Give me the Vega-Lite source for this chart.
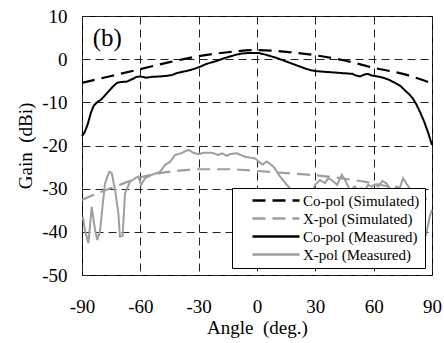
{
  "$schema": "https://vega.github.io/schema/vega-lite/v6.json",
  "width": 350,
  "height": 259,
  "autosize": {"type": "none"},
  "padding": {"left": 82, "top": 16, "right": 12, "bottom": 68},
  "background": "white",
  "config": {
    "view": {"stroke": "black", "strokeWidth": 1},
    "font": "Liberation Serif",
    "axis": {
      "labelFont": "Liberation Serif", "titleFont": "Liberation Serif",
      "labelFontSize": 19, "titleFontSize": 19, "titleFontWeight": "normal",
      "labelColor": "black", "titleColor": "black",
      "grid": true, "gridColor": "#222", "gridDash": [8, 5], "gridWidth": 1,
      "domain": false, "ticks": false, "labelFlush": false, "labelOverlap": false
    },
    "legend": {
      "labelFont": "Liberation Serif", "labelFontSize": 15, "labelColor": "black"
    }
  },
  "datasets": {
    "curves": [
      {"series": "Co-pol (Simulated)", "angle": -90, "gain": -5.5},
      {"series": "Co-pol (Simulated)", "angle": -75, "gain": -3.9},
      {"series": "Co-pol (Simulated)", "angle": -60, "gain": -2.3},
      {"series": "Co-pol (Simulated)", "angle": -45, "gain": -0.7},
      {"series": "Co-pol (Simulated)", "angle": -30, "gain": 0.7},
      {"series": "Co-pol (Simulated)", "angle": -15, "gain": 1.6},
      {"series": "Co-pol (Simulated)", "angle": 0, "gain": 2.1},
      {"series": "Co-pol (Simulated)", "angle": 15, "gain": 1.7},
      {"series": "Co-pol (Simulated)", "angle": 30, "gain": 0.9},
      {"series": "Co-pol (Simulated)", "angle": 45, "gain": -0.3},
      {"series": "Co-pol (Simulated)", "angle": 60, "gain": -2.0},
      {"series": "Co-pol (Simulated)", "angle": 75, "gain": -3.4},
      {"series": "Co-pol (Simulated)", "angle": 90, "gain": -5.6},

      {"series": "X-pol (Simulated)", "angle": -90, "gain": -32.6},
      {"series": "X-pol (Simulated)", "angle": -80, "gain": -30.7},
      {"series": "X-pol (Simulated)", "angle": -70, "gain": -29.0},
      {"series": "X-pol (Simulated)", "angle": -60, "gain": -27.4},
      {"series": "X-pol (Simulated)", "angle": -50, "gain": -26.4},
      {"series": "X-pol (Simulated)", "angle": -40, "gain": -25.8},
      {"series": "X-pol (Simulated)", "angle": -30, "gain": -25.5},
      {"series": "X-pol (Simulated)", "angle": -15, "gain": -25.5},
      {"series": "X-pol (Simulated)", "angle": 0, "gain": -25.9},
      {"series": "X-pol (Simulated)", "angle": 15, "gain": -26.4},
      {"series": "X-pol (Simulated)", "angle": 30, "gain": -26.9},
      {"series": "X-pol (Simulated)", "angle": 45, "gain": -27.7},
      {"series": "X-pol (Simulated)", "angle": 60, "gain": -28.8},
      {"series": "X-pol (Simulated)", "angle": 75, "gain": -30.4},
      {"series": "X-pol (Simulated)", "angle": 90, "gain": -33.0},

      {"series": "Co-pol (Measured)", "angle": -90, "gain": -17.8},
      {"series": "Co-pol (Measured)", "angle": -88.5, "gain": -16.8},
      {"series": "Co-pol (Measured)", "angle": -87, "gain": -15.0},
      {"series": "Co-pol (Measured)", "angle": -85.5, "gain": -12.5},
      {"series": "Co-pol (Measured)", "angle": -84, "gain": -10.8},
      {"series": "Co-pol (Measured)", "angle": -82, "gain": -9.9},
      {"series": "Co-pol (Measured)", "angle": -80, "gain": -9.3},
      {"series": "Co-pol (Measured)", "angle": -78, "gain": -8.3},
      {"series": "Co-pol (Measured)", "angle": -76, "gain": -7.3},
      {"series": "Co-pol (Measured)", "angle": -74, "gain": -6.3},
      {"series": "Co-pol (Measured)", "angle": -72, "gain": -5.5},
      {"series": "Co-pol (Measured)", "angle": -70, "gain": -5.3},
      {"series": "Co-pol (Measured)", "angle": -67, "gain": -5.2},
      {"series": "Co-pol (Measured)", "angle": -64, "gain": -4.6},
      {"series": "Co-pol (Measured)", "angle": -62, "gain": -4.1},
      {"series": "Co-pol (Measured)", "angle": -60, "gain": -4.0},
      {"series": "Co-pol (Measured)", "angle": -57, "gain": -4.3},
      {"series": "Co-pol (Measured)", "angle": -54, "gain": -4.1},
      {"series": "Co-pol (Measured)", "angle": -50, "gain": -4.0},
      {"series": "Co-pol (Measured)", "angle": -47, "gain": -3.9},
      {"series": "Co-pol (Measured)", "angle": -44, "gain": -3.7},
      {"series": "Co-pol (Measured)", "angle": -41, "gain": -3.2},
      {"series": "Co-pol (Measured)", "angle": -38, "gain": -2.9},
      {"series": "Co-pol (Measured)", "angle": -35, "gain": -2.6},
      {"series": "Co-pol (Measured)", "angle": -32, "gain": -2.2},
      {"series": "Co-pol (Measured)", "angle": -29, "gain": -1.7},
      {"series": "Co-pol (Measured)", "angle": -26, "gain": -1.1},
      {"series": "Co-pol (Measured)", "angle": -23, "gain": -0.7},
      {"series": "Co-pol (Measured)", "angle": -20, "gain": -0.3},
      {"series": "Co-pol (Measured)", "angle": -17, "gain": 0.2},
      {"series": "Co-pol (Measured)", "angle": -14, "gain": 0.6},
      {"series": "Co-pol (Measured)", "angle": -11, "gain": 1.0},
      {"series": "Co-pol (Measured)", "angle": -8, "gain": 1.3},
      {"series": "Co-pol (Measured)", "angle": -5, "gain": 1.4},
      {"series": "Co-pol (Measured)", "angle": -2, "gain": 1.4},
      {"series": "Co-pol (Measured)", "angle": 1, "gain": 1.4},
      {"series": "Co-pol (Measured)", "angle": 4, "gain": 1.1},
      {"series": "Co-pol (Measured)", "angle": 7, "gain": 0.7},
      {"series": "Co-pol (Measured)", "angle": 10, "gain": 0.3},
      {"series": "Co-pol (Measured)", "angle": 13, "gain": -0.2},
      {"series": "Co-pol (Measured)", "angle": 16, "gain": -0.7},
      {"series": "Co-pol (Measured)", "angle": 19, "gain": -1.2},
      {"series": "Co-pol (Measured)", "angle": 22, "gain": -1.7},
      {"series": "Co-pol (Measured)", "angle": 25, "gain": -2.2},
      {"series": "Co-pol (Measured)", "angle": 28, "gain": -2.6},
      {"series": "Co-pol (Measured)", "angle": 31, "gain": -2.8},
      {"series": "Co-pol (Measured)", "angle": 34, "gain": -2.9},
      {"series": "Co-pol (Measured)", "angle": 37, "gain": -3.0},
      {"series": "Co-pol (Measured)", "angle": 40, "gain": -3.1},
      {"series": "Co-pol (Measured)", "angle": 43, "gain": -3.2},
      {"series": "Co-pol (Measured)", "angle": 46, "gain": -3.3},
      {"series": "Co-pol (Measured)", "angle": 49, "gain": -3.4},
      {"series": "Co-pol (Measured)", "angle": 51, "gain": -3.8},
      {"series": "Co-pol (Measured)", "angle": 53, "gain": -4.0},
      {"series": "Co-pol (Measured)", "angle": 55, "gain": -3.6},
      {"series": "Co-pol (Measured)", "angle": 57, "gain": -3.4},
      {"series": "Co-pol (Measured)", "angle": 59, "gain": -3.8},
      {"series": "Co-pol (Measured)", "angle": 62, "gain": -4.0},
      {"series": "Co-pol (Measured)", "angle": 65, "gain": -4.3},
      {"series": "Co-pol (Measured)", "angle": 68, "gain": -4.8},
      {"series": "Co-pol (Measured)", "angle": 71, "gain": -5.5},
      {"series": "Co-pol (Measured)", "angle": 74, "gain": -6.3},
      {"series": "Co-pol (Measured)", "angle": 76, "gain": -7.2},
      {"series": "Co-pol (Measured)", "angle": 78, "gain": -8.0},
      {"series": "Co-pol (Measured)", "angle": 80, "gain": -9.0},
      {"series": "Co-pol (Measured)", "angle": 82, "gain": -10.5},
      {"series": "Co-pol (Measured)", "angle": 84, "gain": -12.4},
      {"series": "Co-pol (Measured)", "angle": 86, "gain": -14.5},
      {"series": "Co-pol (Measured)", "angle": 88, "gain": -17.0},
      {"series": "Co-pol (Measured)", "angle": 90, "gain": -19.9},

      {"series": "X-pol (Measured)", "angle": -89.6, "gain": -36.5},
      {"series": "X-pol (Measured)", "angle": -88.5, "gain": -39.6},
      {"series": "X-pol (Measured)", "angle": -86.7, "gain": -42.6},
      {"series": "X-pol (Measured)", "angle": -85, "gain": -34.2},
      {"series": "X-pol (Measured)", "angle": -83.3, "gain": -39.6},
      {"series": "X-pol (Measured)", "angle": -82.1, "gain": -41.9},
      {"series": "X-pol (Measured)", "angle": -80.7, "gain": -39.6},
      {"series": "X-pol (Measured)", "angle": -78.2, "gain": -28.8},
      {"series": "X-pol (Measured)", "angle": -76, "gain": -26.1},
      {"series": "X-pol (Measured)", "angle": -74.7, "gain": -26.4},
      {"series": "X-pol (Measured)", "angle": -73, "gain": -30.3},
      {"series": "X-pol (Measured)", "angle": -71.3, "gain": -35.7},
      {"series": "X-pol (Measured)", "angle": -70.5, "gain": -41.1},
      {"series": "X-pol (Measured)", "angle": -69.1, "gain": -40.9},
      {"series": "X-pol (Measured)", "angle": -67.9, "gain": -31.1},
      {"series": "X-pol (Measured)", "angle": -65.3, "gain": -28.4},
      {"series": "X-pol (Measured)", "angle": -62.7, "gain": -27.6},
      {"series": "X-pol (Measured)", "angle": -61, "gain": -27.2},
      {"series": "X-pol (Measured)", "angle": -59.6, "gain": -29.1},
      {"series": "X-pol (Measured)", "angle": -57.6, "gain": -27.6},
      {"series": "X-pol (Measured)", "angle": -54.1, "gain": -26.8},
      {"series": "X-pol (Measured)", "angle": -49.9, "gain": -26.1},
      {"series": "X-pol (Measured)", "angle": -47.3, "gain": -24.5},
      {"series": "X-pol (Measured)", "angle": -44.7, "gain": -23.8},
      {"series": "X-pol (Measured)", "angle": -42.2, "gain": -22.2},
      {"series": "X-pol (Measured)", "angle": -39, "gain": -21.8},
      {"series": "X-pol (Measured)", "angle": -35.3, "gain": -21.0},
      {"series": "X-pol (Measured)", "angle": -32.7, "gain": -21.7},
      {"series": "X-pol (Measured)", "angle": -30.2, "gain": -22.0},
      {"series": "X-pol (Measured)", "angle": -27.5, "gain": -21.7},
      {"series": "X-pol (Measured)", "angle": -23.3, "gain": -21.7},
      {"series": "X-pol (Measured)", "angle": -19.8, "gain": -22.2},
      {"series": "X-pol (Measured)", "angle": -18.1, "gain": -21.8},
      {"series": "X-pol (Measured)", "angle": -15.6, "gain": -22.4},
      {"series": "X-pol (Measured)", "angle": -13.9, "gain": -22.0},
      {"series": "X-pol (Measured)", "angle": -10.4, "gain": -21.8},
      {"series": "X-pol (Measured)", "angle": -6.2, "gain": -22.6},
      {"series": "X-pol (Measured)", "angle": -1, "gain": -23.0},
      {"series": "X-pol (Measured)", "angle": 1.6, "gain": -24.0},
      {"series": "X-pol (Measured)", "angle": 3, "gain": -24.4},
      {"series": "X-pol (Measured)", "angle": 5, "gain": -23.7},
      {"series": "X-pol (Measured)", "angle": 8.5, "gain": -24.9},
      {"series": "X-pol (Measured)", "angle": 11.9, "gain": -27.2},
      {"series": "X-pol (Measured)", "angle": 15.3, "gain": -29.1},
      {"series": "X-pol (Measured)", "angle": 18.7, "gain": -30.7},
      {"series": "X-pol (Measured)", "angle": 22, "gain": -32.0},
      {"series": "X-pol (Measured)", "angle": 25, "gain": -32.5},
      {"series": "X-pol (Measured)", "angle": 28, "gain": -31.0},
      {"series": "X-pol (Measured)", "angle": 29.9, "gain": -29.1},
      {"series": "X-pol (Measured)", "angle": 32.4, "gain": -28.0},
      {"series": "X-pol (Measured)", "angle": 35, "gain": -28.7},
      {"series": "X-pol (Measured)", "angle": 36.6, "gain": -27.6},
      {"series": "X-pol (Measured)", "angle": 38.4, "gain": -28.0},
      {"series": "X-pol (Measured)", "angle": 41.2, "gain": -29.1},
      {"series": "X-pol (Measured)", "angle": 43.6, "gain": -26.8},
      {"series": "X-pol (Measured)", "angle": 45.3, "gain": -28.0},
      {"series": "X-pol (Measured)", "angle": 47.9, "gain": -30.4},
      {"series": "X-pol (Measured)", "angle": 50.3, "gain": -29.5},
      {"series": "X-pol (Measured)", "angle": 52, "gain": -30.7},
      {"series": "X-pol (Measured)", "angle": 53.7, "gain": -29.9},
      {"series": "X-pol (Measured)", "angle": 55.4, "gain": -30.3},
      {"series": "X-pol (Measured)", "angle": 57.2, "gain": -29.1},
      {"series": "X-pol (Measured)", "angle": 58.9, "gain": -29.5},
      {"series": "X-pol (Measured)", "angle": 60.6, "gain": -29.0},
      {"series": "X-pol (Measured)", "angle": 62.3, "gain": -29.5},
      {"series": "X-pol (Measured)", "angle": 64.5, "gain": -28.2},
      {"series": "X-pol (Measured)", "angle": 66.6, "gain": -28.8},
      {"series": "X-pol (Measured)", "angle": 68.3, "gain": -29.9},
      {"series": "X-pol (Measured)", "angle": 70, "gain": -30.7},
      {"series": "X-pol (Measured)", "angle": 71.7, "gain": -29.5},
      {"series": "X-pol (Measured)", "angle": 73.4, "gain": -29.9},
      {"series": "X-pol (Measured)", "angle": 75.1, "gain": -27.6},
      {"series": "X-pol (Measured)", "angle": 76.8, "gain": -28.8},
      {"series": "X-pol (Measured)", "angle": 78.5, "gain": -29.9},
      {"series": "X-pol (Measured)", "angle": 80.3, "gain": -30.7},
      {"series": "X-pol (Measured)", "angle": 83, "gain": -33.0},
      {"series": "X-pol (Measured)", "angle": 85.5, "gain": -38.5},
      {"series": "X-pol (Measured)", "angle": 87.1, "gain": -40.3},
      {"series": "X-pol (Measured)", "angle": 88.8, "gain": -36.5},
      {"series": "X-pol (Measured)", "angle": 90, "gain": -34.9}
    ],
    "panel": [
      {"label": "(b)", "angle": -77, "gain": 5}
    ]
  },
  "encoding": {
    "x": {
      "field": "angle", "type": "quantitative",
      "scale": {"domain": [-90, 90], "nice": false},
      "axis": {"values": [-90, -60, -30, 0, 30, 60, 90], "title": "Angle\u00a0 (deg.)", "labelPadding": 22, "titlePadding": 2, "labelFont": "Liberation Serif", "labelExpr": "'' + datum.value"}
    },
    "y": {
      "field": "gain", "type": "quantitative",
      "scale": {"domain": [-50, 10], "nice": false},
      "axis": {"values": [-50, -40, -30, -20, -10, 0, 10], "title": "Gain\u00a0 (dBi)", "labelPadding": 15, "titlePadding": 6, "labelFont": "Liberation Serif", "labelExpr": "'' + datum.value"}
    }
  },
  "layer": [
    {
      "data": {"name": "curves"},
      "transform": [{"filter": "indexof(datum.series, 'Simulated') >= 0"}],
      "mark": {"type": "line", "strokeWidth": 2.2, "interpolate": "monotone"},
      "encoding": {
        "color": {
          "field": "series", "type": "nominal",
          "scale": {
            "domain": ["Co-pol (Simulated)", "X-pol (Simulated)", "Co-pol (Measured)", "X-pol (Measured)"],
            "range": ["black", "#9e9e9e", "black", "#9e9e9e"]
          },
          "legend": {
            "title": null, "orient": "bottom-right", "offset": 7,
            "fillColor": "white", "strokeColor": "black", "padding": 5,
            "symbolType": "stroke", "symbolSize": 2209, "symbolStrokeWidth": 2.5,
            "clipHeight": 15, "rowPadding": 2, "labelOffset": 2, "symbolOffset": 14
          }
        },
        "strokeDash": {
          "field": "series", "type": "nominal",
          "scale": {
            "domain": ["Co-pol (Simulated)", "X-pol (Simulated)", "Co-pol (Measured)", "X-pol (Measured)"],
            "range": [[13, 7], [13, 7], [1, 0], [1, 0]]
          },
          "legend": {
            "title": null, "orient": "bottom-right", "offset": 7,
            "fillColor": "white", "strokeColor": "black", "padding": 5,
            "symbolType": "stroke", "symbolSize": 2209, "symbolStrokeWidth": 2.5,
            "clipHeight": 15, "rowPadding": 2, "labelOffset": 2, "symbolOffset": 14
          }
        },
        "order": {"field": "angle", "type": "quantitative"}
      }
    },
    {
      "data": {"name": "curves"},
      "transform": [{"filter": "indexof(datum.series, 'Measured') >= 0"}],
      "mark": {"type": "line", "strokeWidth": 2},
      "encoding": {
        "color": {"field": "series", "type": "nominal"},
        "strokeDash": {"field": "series", "type": "nominal"},
        "order": {"field": "angle", "type": "quantitative"}
      }
    },
    {
      "data": {"name": "panel"},
      "mark": {"type": "text", "fontSize": 25, "font": "Liberation Serif", "color": "black", "align": "center", "baseline": "middle"},
      "encoding": {
        "text": {"field": "label"}
      }
    }
  ]
}
